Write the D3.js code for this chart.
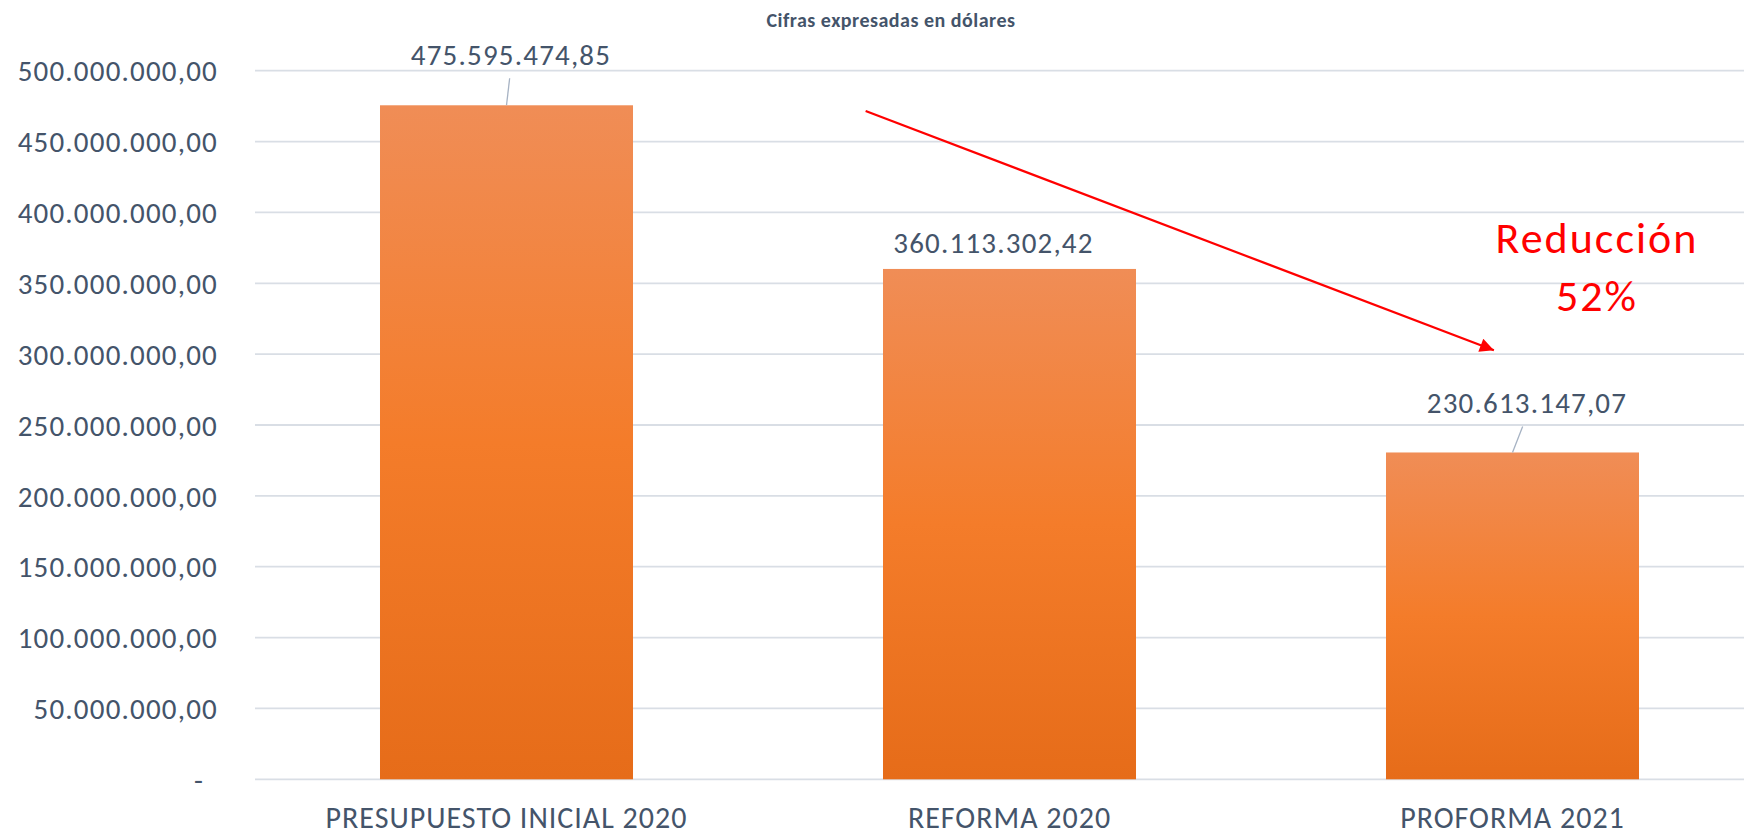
<!DOCTYPE html>
<html>
<head>
<meta charset="utf-8">
<script src="https://cdn.jsdelivr.net/npm/d3@7"></script>
<style>
  html, body { margin: 0; padding: 0; background: #ffffff; }
  svg { display: block; }
  text { font-family: Carlito, Calibri, Lato, "Open Sans", sans-serif; }
</style>
</head>
<body>
<svg id="chart" width="1744" height="835"></svg>
<script>
// ---- data ----
const categories = ["PRESUPUESTO INICIAL 2020", "REFORMA 2020", "PROFORMA 2021"];
const values = [475595474.85, 360113302.42, 230613147.07];
const yTicks = [0, 50000000, 100000000, 150000000, 200000000, 250000000, 300000000, 350000000, 400000000, 450000000, 500000000];
const titleText = "Cifras expresadas en dólares";
const annotationLines = ["Reducción", "52%"];

// ---- layout ----
const W = 1744, H = 835;
const plot = { left: 255, right: 1764, top: 70.7, bottom: 779.3 };
const svg = d3.select("#chart");

const x = d3.scaleBand().domain(categories).range([plot.left, plot.right])
  .paddingInner(0.497).paddingOuter(0.2485);
const y = d3.scaleLinear().domain([0, 500000000]).range([plot.bottom, plot.top]);

const loc = d3.formatLocale({ decimal: ",", thousands: ".", grouping: [3], currency: ["", ""] });
const fmt = loc.format(",.2f");

const textColor = "#44546A";

// gradient for bars
const defs = svg.append("defs");
const grad = defs.append("linearGradient").attr("id", "barGrad")
  .attr("x1", 0).attr("y1", 0).attr("x2", 0).attr("y2", 1);
grad.append("stop").attr("offset", "0%").attr("stop-color", "#F08D56");
grad.append("stop").attr("offset", "50%").attr("stop-color", "#F47C2A");
grad.append("stop").attr("offset", "100%").attr("stop-color", "#E66C19");

const mk = defs.append("marker").attr("id", "arrowHead")
  .attr("viewBox", "0 0 10 10").attr("refX", 10).attr("refY", 5)
  .attr("markerUnits", "userSpaceOnUse")
  .attr("markerWidth", 16).attr("markerHeight", 14)
  .attr("orient", "auto");
mk.append("path").attr("d", "M0,0 L10,5 L0,10 Z").attr("fill", "#FF0000");

// gridlines
const yAxis = d3.axisLeft(y).tickValues(yTicks).tickSize(0)
  .tickFormat(d => d === 0 ? "-" : fmt(d));
svg.append("g").attr("class", "grid")
  .selectAll("line").data(yTicks).join("line")
  .attr("x1", plot.left).attr("x2", W)
  .attr("y1", d => y(d)).attr("y2", d => y(d))
  .attr("stroke", "#D9DEE5").attr("stroke-width", 1.8);

// y axis labels
const gy = svg.append("g").attr("transform", `translate(${218},0)`).call(yAxis);
gy.select(".domain").remove();
gy.selectAll("text")
  .attr("x", d => d === 0 ? -14 : 0)
  .attr("dy", "0.35em")
  .style("font-size", "29px").style("letter-spacing", "1.2px")
  .attr("fill", textColor);

// bars
svg.append("g").selectAll("rect").data(values).join("rect")
  .attr("x", (d, i) => x(categories[i]))
  .attr("y", d => y(d))
  .attr("width", x.bandwidth())
  .attr("height", d => y(0) - y(d))
  .attr("fill", "url(#barGrad)");

// value labels with leader lines (offsets in px relative to bar center / top)
const labelOffset = [ { dx: 4.5, dy: -40, leader: true },
                      { dx: -16, dy: -16, leader: false },
                      { dx: 14.5, dy: -39, leader: true } ];
const gl = svg.append("g");
values.forEach((v, i) => {
  const cx = x(categories[i]) + x.bandwidth() / 2;
  const top = y(v);
  const o = labelOffset[i];
  if (o.leader) {
    gl.append("line")
      .attr("x1", cx + o.dx * 0.7).attr("y1", top + o.dy + 13)
      .attr("x2", cx).attr("y2", top)
      .attr("stroke", "#A6B2C3").attr("stroke-width", 1.3);
  }
  gl.append("text").attr("x", cx + o.dx).attr("y", top + o.dy)
    .attr("text-anchor", "middle").style("font-size", "29px").style("letter-spacing", "1.2px")
    .attr("fill", textColor).text(fmt(v));
});

// x axis labels
const xAxis = d3.axisBottom(x).tickSize(0);
const gx = svg.append("g").attr("transform", `translate(0,${plot.bottom})`).call(xAxis);
gx.select(".domain").remove();
gx.selectAll("text").attr("y", 0).attr("dy", 49)
  .style("font-size", "30px").style("letter-spacing", "1px")
  .attr("fill", textColor);

// title
svg.append("text").attr("x", 891).attr("y", 26.5).attr("text-anchor", "middle")
  .style("font-size", "20px").style("font-weight", "bold").style("letter-spacing", "0.5px")
  .attr("fill", textColor).text(titleText);

// annotation arrow (positions in band-step units / data units)
const step = x.step();
const ax = u => plot.left + u * step;
svg.append("line")
  .attr("x1", ax(1.214)).attr("y1", y(471.6e6))
  .attr("x2", ax(2.463)).attr("y2", y(302.7e6))
  .attr("stroke", "#FF0000").attr("stroke-width", 2.2)
  .attr("marker-end", "url(#arrowHead)");

const annoX = ax(2.668);
svg.append("text").attr("x", annoX).attr("y", y(371.2e6)).attr("text-anchor", "middle")
  .style("font-size", "44px").style("letter-spacing", "2px")
  .attr("fill", "#FF0000").text(annotationLines[0]);
svg.append("text").attr("x", annoX).attr("y", y(330.3e6)).attr("text-anchor", "middle")
  .style("font-size", "44px").style("letter-spacing", "2px")
  .attr("fill", "#FF0000").text(annotationLines[1]);
</script>
</body>
</html>
